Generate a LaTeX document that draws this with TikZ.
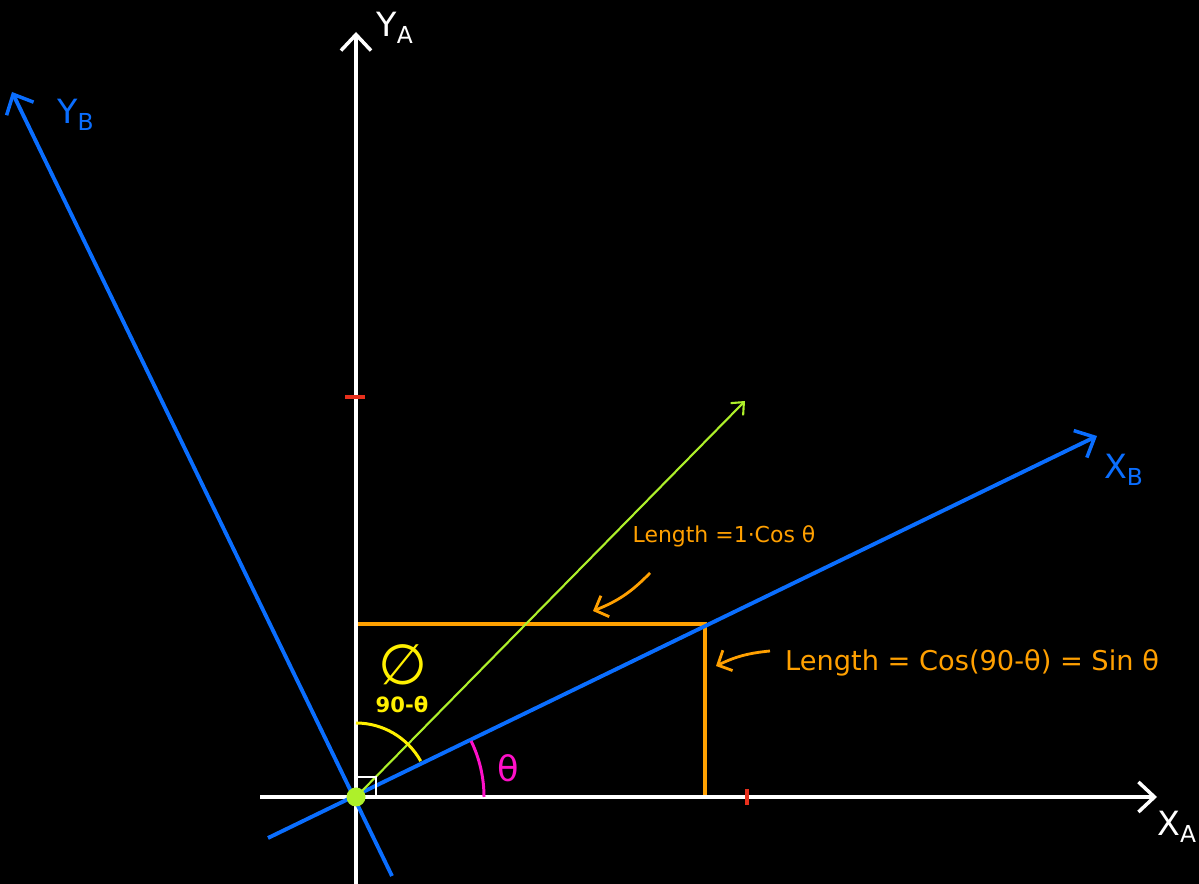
\documentclass[tikz,border=0pt]{standalone}
\usepackage{fontspec}
\setmainfont{DejaVu Sans}
\usepackage{tikz}
\usetikzlibrary{arrows.meta,positioning}
\definecolor{axisblue}{HTML}{0A6EFF}
\definecolor{axisgreen}{HTML}{AEF02A}
\definecolor{lenorange}{HTML}{FFA000}
\definecolor{angyellow}{HTML}{FFF000}
\definecolor{angpink}{HTML}{FF10C8}
\definecolor{tickred}{HTML}{E8301C}

\begin{document}
\begin{tikzpicture}[x=0.02cm, y=0.02cm,
    axisA/.style={draw=white, line width=2.2pt, -{Straight Barb[length=3.2mm, width=6mm, line width=2pt]}},
    axisB/.style={draw=axisblue, line width=2.2pt, -{Straight Barb[length=3.2mm, width=6mm, line width=2pt]}},
    lbl/.style={font=\fontsize{19}{19}\selectfont},
    note/.style={text=lenorange, inner sep=0pt},
    pointer/.style={draw=lenorange, line width=1.6pt, -{Straight Barb[length=2.2mm, width=4.5mm, line width=1.6pt]}},
    tick/.style={draw=tickred, line width=2pt}
]
    % background
    \fill[black] (0,0) rectangle (1199,884);
    \useasboundingbox (0,0) rectangle (1199,884);

    % points
    \coordinate (O) at (356,87);
    \coordinate (xaL) at (260,87);
    \coordinate (xaR) at (1157,87);
    \coordinate (yaB) at (356,0);
    \coordinate (yaT) at (356,852);
    \coordinate (xbL) at (268,46);
    \coordinate (xbR) at (1097,448);
    \coordinate (ybB) at (392,8);
    \coordinate (ybT) at (12,792);
    \coordinate (gTip) at (745,483);
    \coordinate (P) at (705,260);
    \coordinate (Pya) at (356,260);
    \coordinate (Pxa) at (705,87);

    % orange projection box
    \draw[lenorange, line width=1.8pt] (Pya) -- (P) -- (Pxa);

    % axes A
    \draw[axisA] (xaL) -- (xaR);
    \draw[axisA] (yaB) -- (yaT);
    \node (XA) [lbl, text=white] at (1177,57) {X\textsubscript{A}};
    \node (YA) [lbl, text=white] at (395,856) {Y\textsubscript{A}};

    % unit ticks
    \draw[tick] (345,487) -- (365,487);
    \draw[tick] (747,79) -- (747,95);

    % axes B
    \draw[axisB] (xbL) -- (xbR);
    \draw[axisB] (ybB) -- (ybT);
    \node (XB) [lbl, text=axisblue] at (1124,414) {X\textsubscript{B}};
    \node (YB) [lbl, text=axisblue] at (76,769) {Y\textsubscript{B}};

    % green vector
    \draw[axisgreen, line width=1.2pt, -{Straight Barb[length=2mm, width=3.5mm, line width=1.2pt]}] (O) -- (gTip);

    % right angle mark
    \draw[white, line width=0.8pt] (356,107) -- (376,107) -- (376,87);

    % angles
    \draw[angyellow, line width=1.7pt] (356,161) arc[start angle=90, end angle=29, radius=1.48cm];
    \node (phi) [text=angyellow, font=\fontsize{32}{32}\selectfont] at (403,219) {∅};
    \node (cmp) [text=angyellow, font=\fontsize{12}{12}\selectfont\bfseries] at (402,179) {90-θ};
    \draw[angpink, line width=1.7pt] (484,87) arc[start angle=0, end angle=26, radius=2.56cm];
    \node (th) [text=angpink, font=\fontsize{20}{20}\selectfont] at (508,116) {θ};

    % origin dot
    \fill[axisgreen] (O) circle (9.5);

    % length notes
    \node (cosN) [note, font=\fontsize{12.5}{12.5}\selectfont] at (724,348) {Length =1·Cos θ};
    \node (sinN) [note, font=\fontsize{15.5}{15.5}\selectfont] at (972,221) {Length = Cos(90-θ) = Sin θ};
    \coordinate (cosA) at (650,311);
    \coordinate (cosB) at (593,273);
    \coordinate (sinA) at (770,233);
    \coordinate (sinB) at (716,218);
    \draw[pointer] (cosA) to[bend left=12] (cosB);
    \draw[pointer] (sinA) to[bend right=10] (sinB);
\end{tikzpicture}
\end{document}
